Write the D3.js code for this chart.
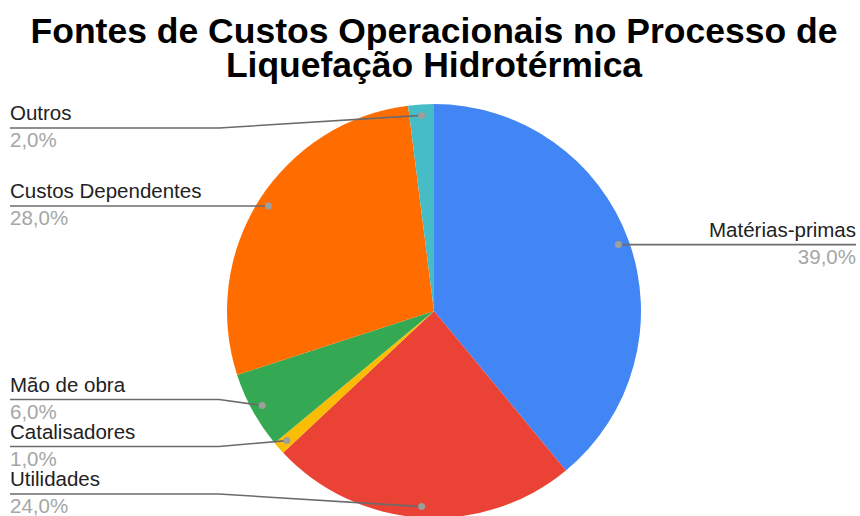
<!DOCTYPE html>
<html>
<head>
<meta charset="utf-8">
<script src="https://cdn.jsdelivr.net/npm/d3@7"></script>
<style>
  body { margin: 0; background: #fff; }
  svg { display: block; }
</style>
</head>
<body>
<svg id="chart" width="860" height="516"></svg>
<script>
const categories = ['Matérias-primas', 'Utilidades', 'Catalisadores', 'Mão de obra', 'Custos Dependentes', 'Outros'];
const values = [39, 24, 1, 6, 28, 2];
const colors = ['#4285F4', '#EA4335', '#FBBC04', '#34A853', '#FF6D01', '#46BDC6'];
const titleLines = ['Fontes de Custos Operacionais no Processo de', 'Liquefação Hidrotérmica'];

const width = 860, height = 516;
const cx = 434, cy = 311, radius = 207, dotR = 196;
const labelFont = 'Liberation Sans, Arial, sans-serif';

const svg = d3.select('#chart');

// title
svg.append('text')
  .attr('x', 434)
  .attr('y', 43)
  .attr('text-anchor', 'middle')
  .attr('font-family', 'Liberation Sans, Arial, sans-serif')
  .attr('font-weight', 'bold')
  .attr('font-size', 35.5)
  .attr('fill', '#000')
  .selectAll('tspan')
  .data(titleLines)
  .join('tspan')
  .attr('x', 434)
  .attr('dy', (d, i) => i === 0 ? 0 : 34)
  .text(d => d);

const data = categories.map((c, i) => ({ name: c, value: values[i], color: colors[i] }));
const pie = d3.pie().value(d => d.value).sort(null);
const arcs = pie(data);
const arc = d3.arc().innerRadius(0).outerRadius(radius);

const g = svg.append('g').attr('transform', `translate(${cx},${cy})`);
g.selectAll('path')
  .data(arcs)
  .join('path')
  .attr('d', arc)
  .attr('fill', d => d.data.color);

// label positions
const fmt = v => d3.format('.1f')(v).replace('.', ',') + '%';
const labels = arcs.map(a => {
  const mid = (a.startAngle + a.endAngle) / 2;
  const dx = cx + Math.sin(mid) * dotR;
  const dy = cy - Math.cos(mid) * dotR;
  return { a, dx, dy, side: Math.sin(mid) >= 0 ? 'right' : 'left', y: dy };
});

const minY = 128, maxY = 494, gap = 47;
['left', 'right'].forEach(side => {
  const list = labels.filter(l => l.side === side).sort((p, q) => p.dy - q.dy);
  for (let it = 0; it < 100; it++) {
    for (let i = 1; i < list.length; i++) {
      const o = gap - (list[i].y - list[i - 1].y);
      if (o > 0) { list[i - 1].y -= o / 2; list[i].y += o / 2; }
    }
    list.forEach(l => { l.y = Math.max(minY, Math.min(maxY, l.y)); });
  }
});

const lg = svg.append('g');
labels.forEach(l => {
  const left = l.side === 'left';
  const edgeX = left ? 10 : 856;
  const elbowX = left ? 219 : 650;
  const pts = Math.abs(l.y - l.dy) < 3
    ? [[edgeX, l.y], [l.dx, l.y]]
    : [[edgeX, l.y], [elbowX, l.y], [l.dx, l.dy]];
  const dotY = pts[pts.length - 1][1];
  lg.append('path')
    .attr('d', d3.line()(pts))
    .attr('fill', 'none')
    .attr('stroke', '#6b6b6b')
    .attr('stroke-width', 1.6);
  lg.append('circle')
    .attr('cx', l.dx)
    .attr('cy', dotY)
    .attr('r', 3.5)
    .attr('fill', '#9e9e9e');
  lg.append('text')
    .attr('x', edgeX)
    .attr('y', l.y - 8)
    .attr('text-anchor', left ? 'start' : 'end')
    .attr('font-family', labelFont)
    .attr('font-size', 20.5)
    .attr('fill', '#222')
    .text(l.a.data.name);
  lg.append('text')
    .attr('x', edgeX)
    .attr('y', l.y + 19)
    .attr('text-anchor', left ? 'start' : 'end')
    .attr('font-family', labelFont)
    .attr('font-size', 20.5)
    .attr('fill', '#a6a6a6')
    .text(fmt(l.a.data.value));
});
</script>
</body>
</html>
